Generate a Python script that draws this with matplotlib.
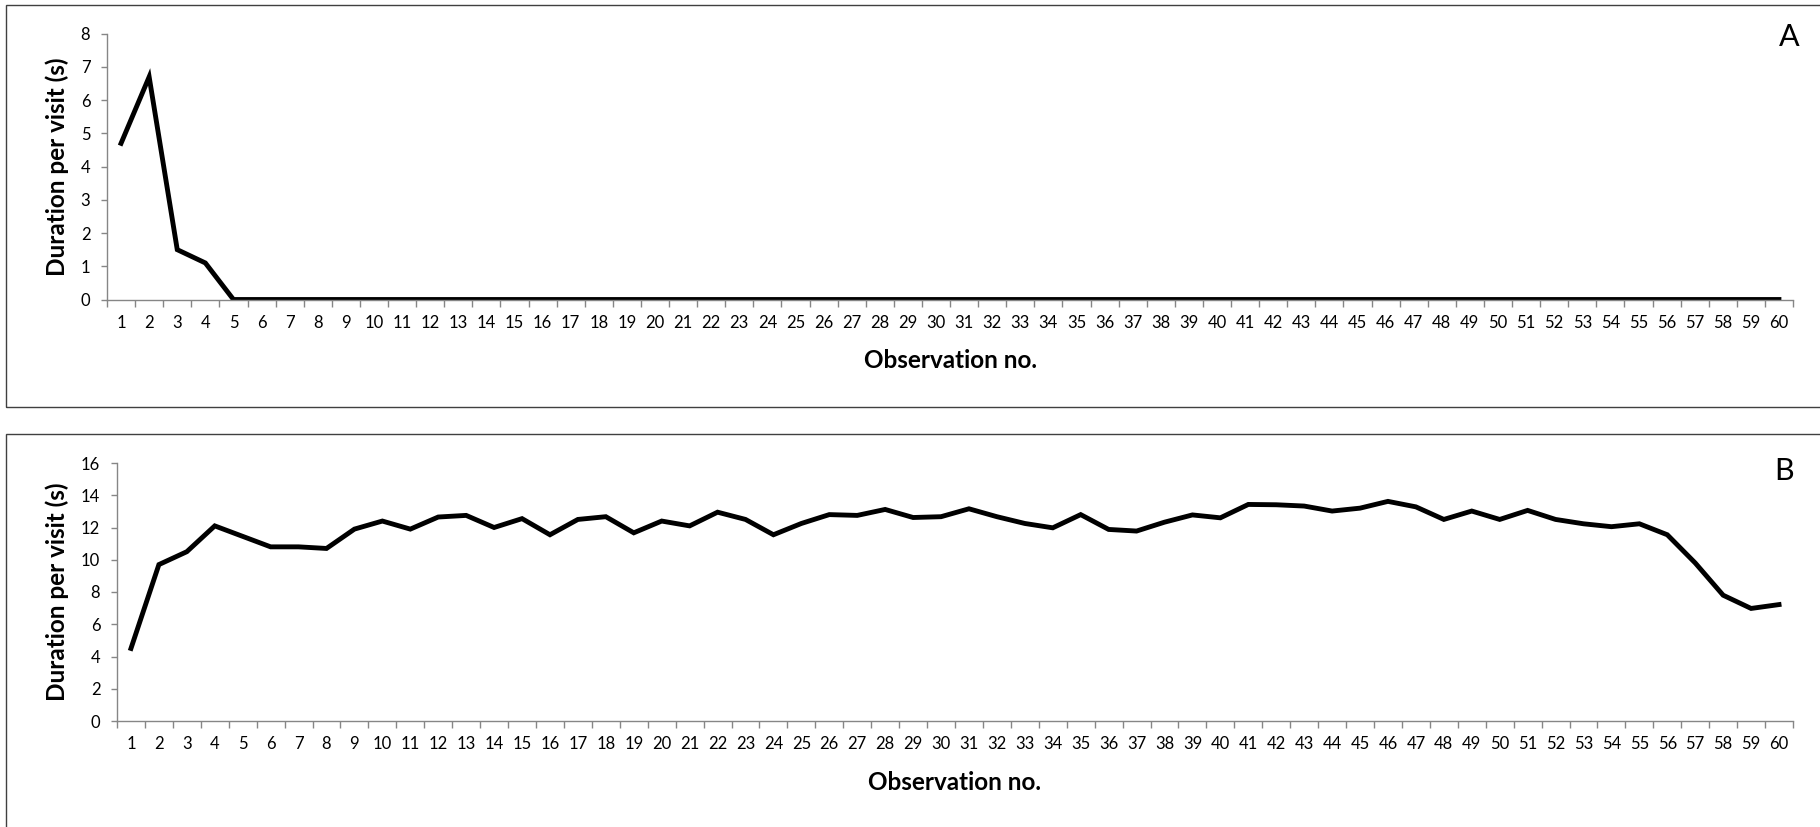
import matplotlib
matplotlib.use("Agg")
from matplotlib import pyplot as plt
from matplotlib.patches import Rectangle
import numpy as np

plt.rcParams["font.family"] = ["Lato", "DejaVu Sans"]

# observation numbers 1..60
observations = list(range(1, 61))

# panel A: duration per visit (s)
duration_a = [4.7, 6.7, 1.5, 1.1] + [0.0] * 56

# panel B: duration per visit (s)
duration_b = [
    4.5, 9.7, 10.5, 12.1, 11.45, 10.8, 10.8, 10.7, 11.9, 12.4,
    11.9, 12.65, 12.75, 12.0, 12.55, 11.55, 12.5, 12.67, 11.67, 12.4,
    12.1, 12.95, 12.5, 11.55, 12.25, 12.8, 12.75, 13.12, 12.62, 12.67,
    13.16, 12.67, 12.25, 11.98, 12.8, 11.88, 11.78, 12.33, 12.78, 12.6,
    13.43, 13.41, 13.33, 13.02, 13.2, 13.62, 13.28, 12.5, 13.02, 12.5,
    13.06, 12.5, 12.23, 12.05, 12.23, 11.55, 9.8, 7.8, 6.98, 7.22,
]

W, H = 1820, 827
axis_grey = "#868686"


def fx(px):
    return px / W


def fy(py):
    return 1 - py / H


def draw_panel(fig, left, right, top, bottom, values, ymax, ystep, letter, letter_pos, box_top, box_bottom):
    # panel frame (runs off the right edge like the original)
    fig.patches.append(
        Rectangle(
            (fx(6), fy(box_bottom)),
            fx(W + 20 - 6),
            fy(box_top) - fy(box_bottom),
            transform=fig.transFigure,
            fill=False,
            edgecolor="#404040",
            linewidth=1.0,
        )
    )

    ax = fig.add_axes([fx(left), fy(bottom), fx(right - left), fy(top) - fy(bottom)])
    ax.plot(observations, values, color="black", linewidth=3.5, solid_joinstyle="miter")

    ax.set_xlim(0.5, 60.5)
    ax.set_ylim(0, ymax)
    ax.set_yticks(np.arange(0, ymax + 1, ystep))

    # category boundaries get the tick marks, centres get the labels
    ax.set_xticks(np.arange(0.5, 61, 1.0))
    ax.set_xticklabels([])
    ax.set_xticks(observations, minor=True)
    ax.set_xticklabels([str(o) for o in observations], minor=True)
    ax.tick_params(axis="x", which="major", length=5, width=1, color=axis_grey, direction="out")
    ax.tick_params(axis="x", which="minor", length=0, pad=11, labelsize=12)
    ax.tick_params(axis="y", length=4, width=1, color=axis_grey, pad=8, labelsize=12)

    for side in ["top", "right"]:
        ax.spines[side].set_visible(False)
    for side in ["left", "bottom"]:
        ax.spines[side].set_color(axis_grey)
        ax.spines[side].set_linewidth(1)

    ax.set_xlabel("Observation no.", fontsize=17.5, fontweight="bold")
    ax.set_ylabel("Duration per visit (s)", fontsize=17.5, fontweight="bold")
    width = right - left
    height = bottom - top
    ax.xaxis.set_label_coords(0.5, -(50 / height))
    ax.yaxis.set_label_coords(-(left - 69) / width, 0.5)

    fig.text(fx(letter_pos[0]), fy(letter_pos[1]), letter, fontsize=22, ha="center", va="center")
    return ax


fig = plt.figure(figsize=(W / 100, H / 100), dpi=100, facecolor="white")

draw_panel(fig, 107, 1793, 33.7, 299.5, duration_a, 8, 1, "A", (1789, 37), 5, 407)
draw_panel(fig, 117, 1793, 463, 721, duration_b, 16, 2, "B", (1784, 471), 434, 840)

plt.savefig("out.png", dpi=100, facecolor="white")
plt.close()
